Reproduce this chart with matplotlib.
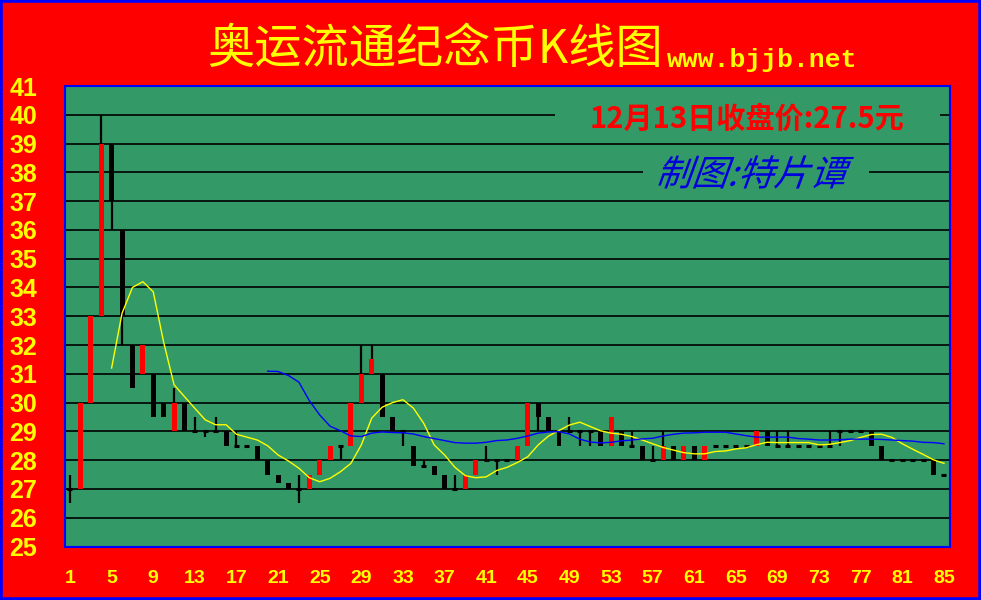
import matplotlib
matplotlib.use('Agg')
from matplotlib import pyplot as plt
from matplotlib.patches import Rectangle, PathPatch
from matplotlib.textpath import TextPath
from matplotlib.font_manager import FontProperties
from matplotlib.transforms import Affine2D
import numpy as np

plt.rcParams['font.family'] = ['Noto Sans CJK SC', 'DejaVu Sans']

# daily prices, day 1 .. 85
opens = [27, 27, 30, 33, 39, 36, 32, 31, 31, 30,
         29, 30, 29, 29, 29, 29, 28.5, 28.5, 28.5, 28,
         27.5, 27.2, 27, 27, 27.5, 28, 28.5, 28.5, 30, 31,
         31, 29.5, 29, 28.5, 27.8, 27.8, 27.5, 27, 27, 27.5,
         28, 28, 28, 28, 28.5, 30, 29.5, 29, 29, 29,
         29, 29, 28.5, 29, 28.5, 28.5, 28, 28, 28.5, 28,
         28.5, 28, 28.5, 28.5, 28.5, 28.5, 28.5, 29, 28.5, 28.5,
         28.5, 28.5, 28.5, 28.5, 29, 29, 29, 29, 28.5, 28,
         28, 28, 28, 28, 27.5]
highs = [27.5, 30, 33, 40, 39, 36, 32, 32, 31, 30,
         30.5, 30, 29.5, 29, 29.5, 29, 29, 28.5, 28.5, 28,
         27.5, 27.2, 27.5, 27.5, 28, 28.5, 28.5, 30, 32, 32,
         31, 29.5, 29, 28.5, 28, 27.8, 27.5, 27.5, 27.5, 28,
         28.5, 28, 28, 28.5, 30, 30, 29.5, 29, 29.5, 29,
         29, 29, 29.5, 29, 29, 28.5, 28.5, 29, 28.5, 28.5,
         28.5, 28.5, 28.5, 28.5, 28.5, 28.5, 29, 29, 29, 29,
         28.5, 28.5, 28.5, 29, 29, 29, 29, 29, 28.5, 28,
         28, 28, 28, 28, 27.5]
lows = [26.5, 27, 30, 33, 36, 32, 30.5, 31, 29.5, 29.5,
        29, 29, 29, 28.8, 29, 28.5, 28.5, 28.5, 28, 27.5,
        27.2, 27, 26.5, 27, 27.5, 28, 28, 28.5, 30, 31,
        29.5, 29, 28.5, 27.8, 27.8, 27.5, 27, 27, 27, 27.5,
        28, 27.5, 28, 28, 28.5, 29, 29, 28.5, 29, 28.5,
        28.5, 28.5, 28.5, 28.5, 28.5, 28, 28, 28, 28, 28,
        28, 28, 28.5, 28.5, 28.5, 28.5, 28.5, 28.5, 28.5, 28.5,
        28.5, 28.5, 28.5, 28.5, 28.5, 29, 29, 28.5, 28, 28,
        28, 28, 28, 27.5, 27.5]
closes = [27, 30, 33, 39, 37, 33, 30.5, 32, 29.5, 29.5,
          30, 29, 29, 29, 29, 28.5, 28.5, 28.5, 28, 27.5,
          27.2, 27, 27, 27.5, 28, 28.5, 28.5, 30, 31, 31.5,
          29.5, 29, 29, 27.8, 27.8, 27.5, 27, 27, 27.5, 28,
          28, 28, 28, 28.5, 30, 29.5, 29, 28.5, 29, 29,
          29, 28.5, 29.5, 28.5, 28.5, 28, 28, 28.5, 28, 28.5,
          28, 28.5, 28.5, 28.5, 28.5, 28.5, 29, 28.5, 28.5, 28.5,
          28.5, 28.5, 28.5, 28.5, 29, 29, 29, 28.5, 28, 28,
          28, 28, 28, 27.5, 27.5]

# short average (yellow), from day 5
ma_short_start = 5
ma_short = [31.2, 33.1, 34.0, 34.2, 33.85, 32.1, 30.62, 30.21, 29.8, 29.4,
            29.23, 29.23, 28.9, 28.8, 28.7, 28.5, 28.18, 27.97, 27.72, 27.39,
            27.25, 27.37, 27.6, 27.89, 28.53, 29.46, 29.84, 30.0, 30.1, 29.81,
            29.28, 28.53, 28.18, 27.75, 27.46, 27.39, 27.42, 27.64, 27.75, 27.92,
            28.12, 28.53, 28.84, 29.03, 29.22, 29.32, 29.17, 29.02, 28.94, 28.9,
            28.82, 28.7, 28.57, 28.44, 28.35, 28.26, 28.22, 28.22, 28.3, 28.32,
            28.39, 28.43, 28.54, 28.62, 28.61, 28.61, 28.61, 28.61, 28.53, 28.55,
            28.61, 28.68, 28.79, 28.89, 28.9, 28.79, 28.57, 28.38, 28.2, 28.01,
            27.89]
# long average (blue), from day 20
ma_long_start = 20
ma_long = [31.09, 31.08, 30.94, 30.71, 30.07, 29.57, 29.18, 29.02, 28.84, 28.82,
           28.94, 28.98, 28.96, 28.95, 28.91, 28.82, 28.75, 28.68, 28.61, 28.59,
           28.59, 28.62, 28.68, 28.70, 28.76, 28.84, 28.94, 28.98, 28.99, 28.91,
           28.73, 28.63, 28.6, 28.62, 28.67, 28.7, 28.74, 28.76, 28.84, 28.9,
           28.94, 28.95, 28.97, 28.97, 28.97, 28.91, 28.85, 28.8, 28.8, 28.8,
           28.8, 28.75, 28.73, 28.7, 28.7, 28.71, 28.73, 28.73, 28.73, 28.72,
           28.7, 28.68, 28.66, 28.62, 28.61, 28.57]

y_ticks = list(range(25, 42))
x_ticks = list(range(1, 86, 4))

title = '奥运流通纪念币K线图'
site = 'www.bjjb.net'
close_note = '12月13日收盘价:27.5元'
author = '制图:特片谭'

RED = '#FF0000'
GREEN = '#339966'
BLUE = '#0000FF'
YELLOW = '#FFFF00'

W, H = 981, 600
fig = plt.figure(figsize=(W / 100, H / 100), dpi=100)
fig.patch.set_facecolor(RED)

# plot area in pixels: x 65..950, y 86..546.5
L, R, T, B = 65, 950, 86, 546.5
ax = fig.add_axes([L / W, (H - B) / H, (R - L) / W, (B - T) / H])
ax.set_facecolor(GREEN)

days = np.arange(1, len(closes) + 1)
ax.set_xlim(0.52, 85.58)
ax.set_ylim(25, 41)

# grid
for v in y_ticks[1:-1]:
	ax.axhline(v, color='black', lw=1.2, zorder=1)

def px_to_axes(px, py):
	return (px - L) / (R - L), (B - py) / (B - T)

# green patches behind the two notes (they break the grid lines)
for (x0, y0, x1, y1) in [(555, 104, 940, 134), (643, 160, 869, 186)]:
	ax0, ay1 = px_to_axes(x0, y0)
	ax1, ay0 = px_to_axes(x1, y1)
	ax.add_patch(Rectangle((ax0, ay0), ax1 - ax0, ay1 - ay0, transform=ax.transAxes,
	                       facecolor=GREEN, edgecolor='none', zorder=2))

# candles
width = 0.48
for d, o, h, l, c in zip(days, opens, highs, lows, closes):
	if h > l:
		ax.vlines(d, l, h, color='black', lw=1.6, zorder=3)
	if c == o:
		ax.hlines(o, d - width / 2, d + width / 2, color='black', lw=2.2, zorder=4)
	else:
		col = RED if c > o else 'black'
		ax.bar(d, abs(c - o), bottom=min(o, c), width=width, color=col, zorder=4)

# averages
ax.plot(np.arange(ma_short_start, ma_short_start + len(ma_short)), ma_short,
        color=YELLOW, lw=1.0, zorder=5)
ax.plot(np.arange(ma_long_start, ma_long_start + len(ma_long)), ma_long,
        color=BLUE, lw=1.0, zorder=5)

ax.set_yticks(y_ticks)
ax.set_yticklabels([str(v) for v in y_ticks])
ax.set_xticks(x_ticks)
ax.set_xticklabels([str(v) for v in x_ticks])
ax.tick_params(axis='y', length=0, pad=20, labelcolor=YELLOW, labelsize=18)
ax.tick_params(axis='x', length=0, pad=17, labelcolor=YELLOW, labelsize=14)
for lab in ax.get_yticklabels() + ax.get_xticklabels():
	lab.set_fontfamily(['Liberation Sans', 'DejaVu Sans'])
	lab.set_fontweight('bold')

for sp in ax.spines.values():
	sp.set_color(BLUE)
	sp.set_linewidth(1.5)

# texts
def fx(px):
	return px / W

def fy(py):
	return 1 - py / H

fig.text(fx(435), fy(50), title, color=YELLOW, fontsize=34, ha='center', va='center')
fig.text(fx(667), fy(67), site, color=YELLOW, fontsize=19, fontweight='bold',
         ha='left', va='baseline', family=['Liberation Mono', 'DejaVu Sans Mono'])
fig.text(fx(747), fy(119), close_note, color=RED, fontsize=21, fontweight='bold',
         ha='center', va='center', zorder=10)

# slanted signature, drawn as a path in pixel space
tp = TextPath((0, 0), author, size=36,
              prop=FontProperties(family='Noto Sans CJK SC', weight='medium'))
ext = tp.get_extents()
cx = (ext.x0 + ext.x1) / 2
cy = (ext.y0 + ext.y1) / 2
tr = Affine2D().translate(-cx, -cy).skew_deg(20, 0).translate(755, H - 172)
fig.add_artist(PathPatch(tp, transform=tr, facecolor='#0000DD', edgecolor='none',
                         zorder=10))

# outer blue frame
fig.add_artist(Rectangle((0, 0), 1, 1, transform=fig.transFigure, fill=False,
                         edgecolor=BLUE, lw=4))

fig.savefig('out.png', dpi=100, facecolor=RED)
